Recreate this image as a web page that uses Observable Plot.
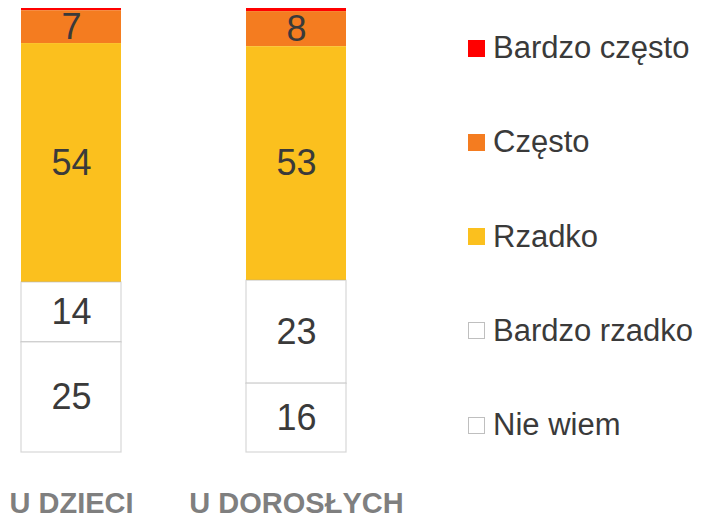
<!DOCTYPE html>
<html><head><meta charset="utf-8">
<script src="https://cdn.jsdelivr.net/npm/d3@7"></script>
<script src="https://cdn.jsdelivr.net/npm/@observablehq/plot@0.6"></script>
<style>
body{margin:0;background:#fff;font-family:"Liberation Sans",Arial,sans-serif;}
#wrap{position:relative;width:702px;height:519px;overflow:hidden;}
#chart{position:absolute;left:0;top:0;}
#legend{position:absolute;left:468px;top:0;}
.item{position:absolute;left:0;display:flex;align-items:center;height:34px;white-space:nowrap;font-size:31px;color:#3a3a3a;}
.sw{width:17px;height:17px;box-sizing:border-box;margin-right:8px;flex:none;}
</style></head><body>
<div id="wrap"><div id="chart"></div><div id="legend"></div></div>
<script>
const groups = ["U DZIECI", "U DOROSŁYCH"];
const categories = ["Bardzo często", "Często", "Rzadko", "Bardzo rzadko", "Nie wiem"];
const colors = ["#ff0000", "#f47c20", "#fbc01e", "#ffffff", "#ffffff"];
const valuesDzieci = [0.5, 7.4, 53.8, 13.5, 24.8];
const valuesDorosli = [0.7, 7.9, 52.7, 23.2, 15.5];
const labelsDzieci = ["", "7", "54", "14", "25"];
const labelsDorosli = ["", "8", "53", "23", "16"];

const data = [];
categories.forEach((c, i) => data.push({group: groups[0], cat: c, value: valuesDzieci[i], label: labelsDzieci[i], color: colors[i]}));
categories.forEach((c, i) => data.push({group: groups[1], cat: c, value: valuesDorosli[i], label: labelsDorosli[i], color: colors[i]}));
const order = categories.slice().reverse();
const isWhite = d => d.color === "#ffffff";

const chart = Plot.plot({
  width: 440, height: 519,
  marginLeft: 20, marginRight: 94, marginTop: 8, marginBottom: 67,
  style: {fontFamily: "'Liberation Sans', Arial, sans-serif", background: "transparent"},
  x: {domain: groups, paddingInner: 0.5565, paddingOuter: 0, axis: null},
  y: {domain: [0, 100], axis: null},
  color: {type: "identity"},
  marks: [
    Plot.barY(data, Plot.stackY({x: "group", y: "value", z: "cat", order,
      fill: d => d.color, stroke: d => isWhite(d) ? "#a6a6a6" : "none", strokeOpacity: 0.45, strokeWidth: 1.2, inset: 0})),
    Plot.text(data, Plot.stackY({x: "group", y: "value", z: "cat", order,
      text: "label", fontSize: 36, fill: "#3a3a3a"})),
    Plot.axisX({tickSize: 0, tickPadding: 40, fontSize: 29, fontWeight: "bold", fill: "#7f7f7f", label: null})
  ]
});
document.getElementById("chart").appendChild(chart);

const legend = document.getElementById("legend");
categories.forEach((c, i) => {
  const item = document.createElement("div");
  item.className = "item";
  item.style.top = (48 + i * 94.25 - 17) + "px";
  const sw = document.createElement("div");
  sw.className = "sw";
  sw.style.background = colors[i];
  if (colors[i] === "#ffffff") sw.style.border = "1px solid #bfbfbf";
  const t = document.createElement("span");
  t.textContent = c;
  item.appendChild(sw); item.appendChild(t);
  legend.appendChild(item);
});
</script>
</body></html>
